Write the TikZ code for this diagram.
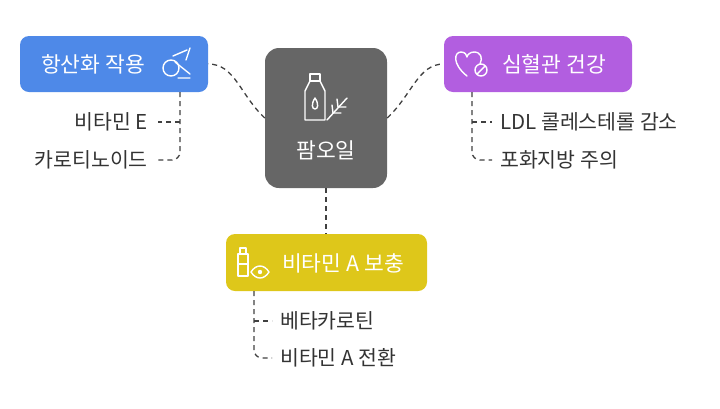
\documentclass[tikz,border=0pt]{standalone}
\usepackage{fontspec}
\setmainfont{Noto Sans CJK KR}
\usetikzlibrary{calc}
\begin{document}
\begin{tikzpicture}[x=1pt,y=-1pt,
  box/.style={text=white,font=\fontsize{21.5}{24}\selectfont},
  conn/.style={draw=black!75,dashed,dash pattern=on 5pt off 4pt,line width=1.3pt},
  item/.style={text=black!80,font=\fontsize{20.5}{23}\selectfont,inner sep=0pt},
  ico/.style={draw=white,line width=1.4pt,line cap=round,line join=round}]
\useasboundingbox (0,0) rectangle (720,408);
\fill[fill=black!60,rounded corners=14pt] (265,48) rectangle (387,188);
\node (c) at (326,118) [minimum width=122pt,minimum height=140pt] {};
\node[box] (ct) at (326,150) {팜오일};
% bottle icon
\draw[ico] (310,74) rectangle (320,81);
\draw[ico] (310,81) -- (305,91) -- (305,120) -- (325,120) -- (325,91) -- (320,81);
\draw[ico] (315,98) .. controls (311,104) and (312,109) .. (315,109) .. controls (318,109) and (319,104) .. (315,98);
\draw[ico] (327,120) -- (347,98);
\draw[ico] (333,113) -- (332,105) (338,107) -- (337,99) (333,113) -- (341,113) (338,107) -- (346,107);
% blue
\fill[fill={rgb,255:red,78;green,137;blue,232},rounded corners=9pt] (20,36) rectangle (208,92);
\node (b) at (114,64) [minimum width=188pt,minimum height=56pt] {};
\node[box] at (93,64) {항산화 작용};
\draw[ico] (171,68) circle (8pt);
\draw[ico] (173,56) -- (187,50) (175,62) -- (190,74) (186,60) -- (190,48) (178,78) -- (190,78);
% purple
\fill[fill={rgb,255:red,178;green,94;blue,224},rounded corners=9pt] (444,36) rectangle (632,92);
\node (p) at (538,64) [minimum width=188pt,minimum height=56pt] {};
\node[box] at (554,64) {심혈관 건강};
\draw[ico] (467,76) .. controls (452,64) and (454,52) .. (461,52) .. controls (465,52) and (467,55) .. (467,57) .. controls (467,55) and (470,52) .. (474,52) .. controls (481,52) and (483,58) .. (480,64);
\draw[ico] (481,70) circle (6pt) (477,74) -- (485,66);
% yellow
\fill[fill={rgb,255:red,222;green,199;blue,26},rounded corners=9pt] (226,234) rectangle (427,291);
\node (y) at (326,262) [minimum width=201pt,minimum height=57pt] {};
\node[box] at (343,263) {비타민 A 보충};
\draw[ico] (240,248) rectangle (246,254) (238,254) rectangle (248,276) (238,264) -- (248,264);
\draw[ico] (251,272) .. controls (256,264) and (264,264) .. (269,272) .. controls (264,280) and (256,280) .. (251,272);
\fill[white] (260,272) circle (2.2pt);
% connectors
\draw[conn] (c.west) .. controls (240,95) and (235,64) .. (b.east);
\draw[conn] (c.east) .. controls (412,95) and (418,64) .. (p.west);
\draw[conn] (c.south) -- (y.north);
% items
\node[item,anchor=east] (b1) at (148,122) {비타민 E};
\node[item,anchor=east] (b2) at (148,160) {카로티노이드};
\coordinate (bt) at (180,92);
\draw[conn,rounded corners=8pt] (bt) -- (180,160) -- ($(b2.east)+(10,0)$);
\draw[conn] (180,122) -- ($(b1.east)+(10,0)$);
\node[item,anchor=west] (p1) at (500,122) {LDL 콜레스테롤 감소};
\node[item,anchor=west] (p2) at (500,160) {포화지방 주의};
\coordinate (pt) at (472,92);
\draw[conn,rounded corners=8pt] (pt) -- (472,160) -- ($(p2.west)+(-8,0)$);
\draw[conn] (472,122) -- ($(p1.west)+(-8,0)$);
\node[item,anchor=west] (y1) at (280,321) {베타카로틴};
\node[item,anchor=west] (y2) at (280,358) {비타민 A 전환};
\coordinate (yt) at (254,291);
\draw[conn,rounded corners=8pt] (yt) -- (254,358) -- ($(y2.west)+(-8,0)$);
\draw[conn] (254,321) -- ($(y1.west)+(-8,0)$);
\end{tikzpicture}
\end{document}
